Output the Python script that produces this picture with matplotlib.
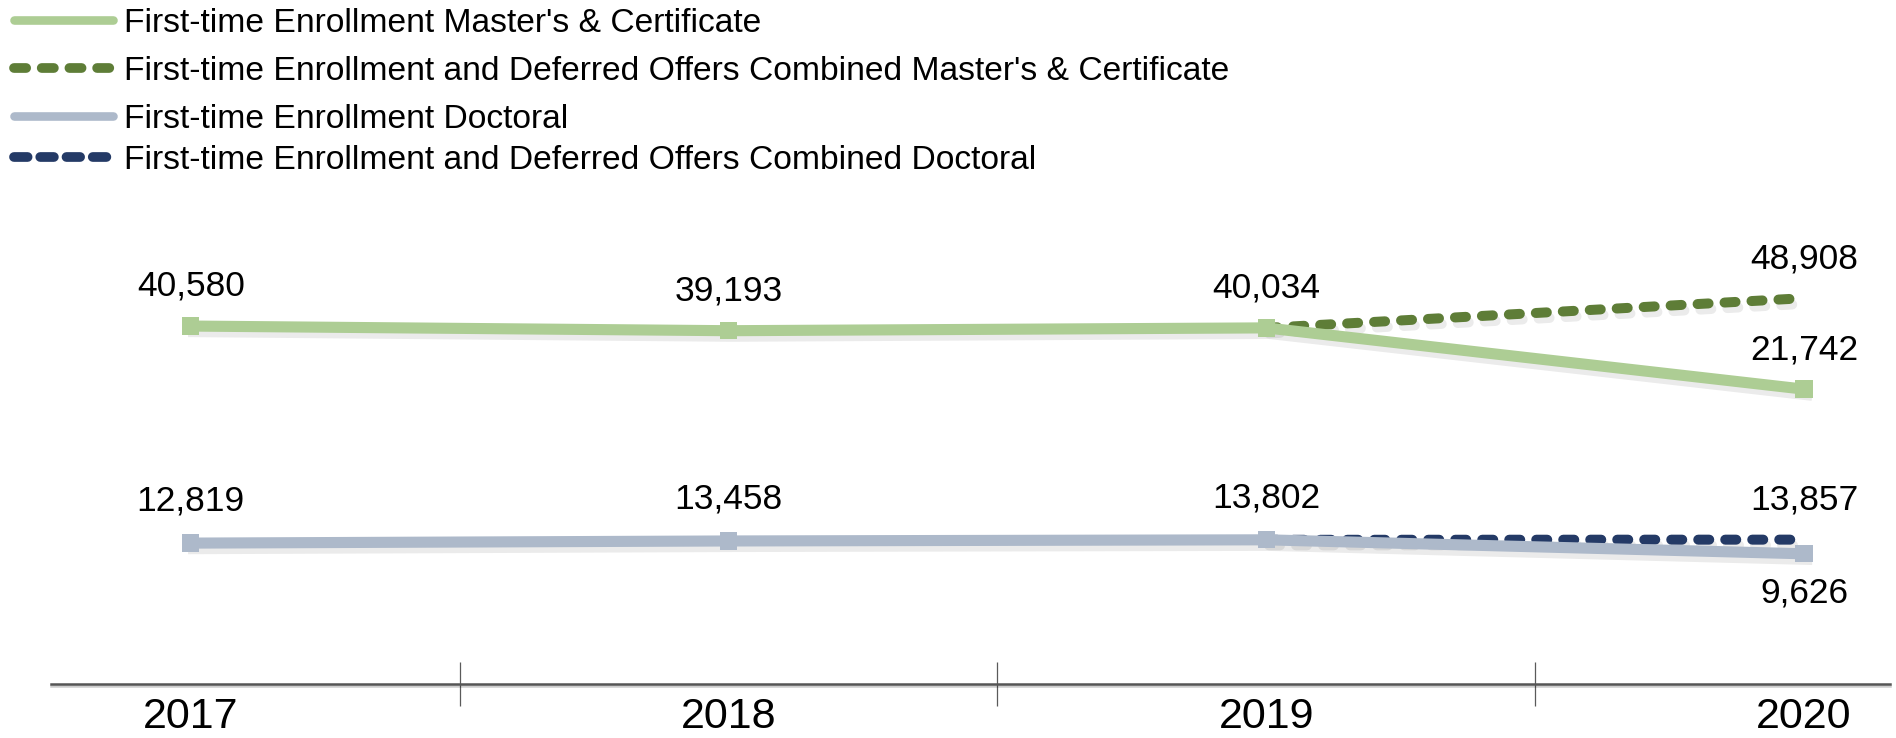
import matplotlib
matplotlib.use("Agg")
import matplotlib.pyplot as plt
from matplotlib.lines import Line2D
import matplotlib.patheffects as pe
from matplotlib.ticker import FixedLocator, NullFormatter

# ---------------- data ----------------
years = ["2017", "2018", "2019", "2020"]
first_masters = [40580, 39193, 40034, 21742]
combined_masters_years = ["2019", "2020"]
combined_masters = [40034, 48908]
first_doctoral = [12819, 13458, 13802, 9626]
combined_doctoral_years = ["2019", "2020"]
combined_doctoral = [13802, 13857]

legend_labels = [
    "First-time Enrollment Master's & Certificate",
    "First-time Enrollment and Deferred Offers Combined Master's & Certificate",
    "First-time Enrollment Doctoral",
    "First-time Enrollment and Deferred Offers Combined Doctoral",
]

# ---------------- style ----------------
C_LGREEN = "#ADCD94"
C_DGREEN = "#5E7D37"
C_LBLUE = "#ADB9CA"
C_NAVY = "#243A66"
FONT = ["Liberation Sans", "DejaVu Sans"]
plt.rcParams["font.family"] = FONT

W, H = 1896, 738
DPI = 100
fig = plt.figure(figsize=(W / DPI, H / DPI), dpi=DPI)

PX_PER_UNIT = 0.00335  # pixels per enrollment unit (same scale for both panels)
X_LEFT, X_RIGHT = 51, 1890


def make_axes(top_px, bot_px, anchor_val, anchor_px):
    ax = fig.add_axes([X_LEFT / W, 1 - bot_px / H, (X_RIGHT - X_LEFT) / W,
                       (bot_px - top_px) / H])
    lo = anchor_val - (bot_px - anchor_px) / PX_PER_UNIT
    hi = anchor_val + (anchor_px - top_px) / PX_PER_UNIT
    ax.set_ylim(lo, hi)
    ax.set_xlim(-0.26, 3.16)
    for s in ax.spines.values():
        s.set_visible(False)
    ax.set_yticks([])
    ax.patch.set_alpha(0)
    return ax


ax_top = make_axes(200, 430, 40000, 328.0)
ax_bot = make_axes(440, 684, 13000, 542.5)

xpos = {y: i for i, y in enumerate(years)}

shadow = [pe.SimpleLineShadow(offset=(2.0, -4.0), shadow_color="black", alpha=0.08),
          pe.Normal()]

DASH = (1.1, 1.6)


def solid(ax, vals, color):
    ax.plot([xpos[y] for y in years], vals, color=color, lw=8, marker="s",
            markersize=12.5, markeredgewidth=0, solid_joinstyle="miter",
            zorder=3, clip_on=False, path_effects=shadow)


def dashed(ax, yrs, vals, color):
    ax.plot([xpos[y] for y in yrs], vals, color=color, lw=7.2,
            linestyle=(0, DASH), dash_capstyle="round", zorder=2,
            clip_on=False, path_effects=shadow)


dashed(ax_top, combined_masters_years, combined_masters, C_DGREEN)
solid(ax_top, first_masters, C_LGREEN)
dashed(ax_bot, combined_doctoral_years, combined_doctoral, C_NAVY)
solid(ax_bot, first_doctoral, C_LBLUE)

LBL_FS = 25.5
OFF = 28.5


def label(ax, x, v, dy):
    ax.annotate(f"{v:,}", (xpos[x], v), xytext=(0, dy), textcoords="offset points",
                ha="center", va="center", fontsize=LBL_FS, color="black",
                annotation_clip=False)


for y, v in zip(years, first_masters):
    label(ax_top, y, v, OFF)
label(ax_top, "2020", combined_masters[-1], OFF)

for y, v in zip(years[:-1], first_doctoral[:-1]):
    label(ax_bot, y, v, OFF + 1.5)
label(ax_bot, "2020", combined_doctoral[-1], OFF)
label(ax_bot, "2020", first_doctoral[-1], -OFF)

# x axis
ax_top.set_xticks([])
sp = ax_bot.spines["bottom"]
sp.set_visible(True)
sp.set_color("#555555")
sp.set_linewidth(1.8)
sp.set_path_effects([pe.SimpleLineShadow(offset=(0, -1.5), shadow_color="black", alpha=0.2),
                     pe.Normal()])
ax_bot.set_xticks(range(len(years)))
ax_bot.set_xticklabels(years, fontsize=31)
ax_bot.tick_params(axis="x", which="major", length=0, pad=9)
ax_bot.xaxis.set_minor_locator(FixedLocator([0.5, 1.5, 2.5]))
ax_bot.xaxis.set_minor_formatter(NullFormatter())
ax_bot.tick_params(axis="x", which="minor", direction="inout", length=31,
                   width=0.9, color="#5A5A5A")

# legend (four rows)
handles = [
    Line2D([], [], color=C_LGREEN, lw=6.2, solid_capstyle="round"),
    Line2D([], [], color=C_DGREEN, lw=7, linestyle=(0, (1.25, 1.6)), dash_capstyle="round"),
    Line2D([], [], color=C_LBLUE, lw=6.2, solid_capstyle="round"),
    Line2D([], [], color=C_NAVY, lw=7, linestyle=(0, (1.4, 1.3)), dash_capstyle="round"),
]
row_centers = [23.5, 71.5, 119.5, 160.5]
for h, lab, yc in zip(handles, legend_labels, row_centers):
    fig.legend([h], [lab], loc="center left", bbox_to_anchor=(14 / W, 1 - yc / H),
               frameon=False, fontsize=24.2, handlelength=2.96, handletextpad=0.3,
               borderpad=0, borderaxespad=0)

fig.savefig("out.png", dpi=DPI)
